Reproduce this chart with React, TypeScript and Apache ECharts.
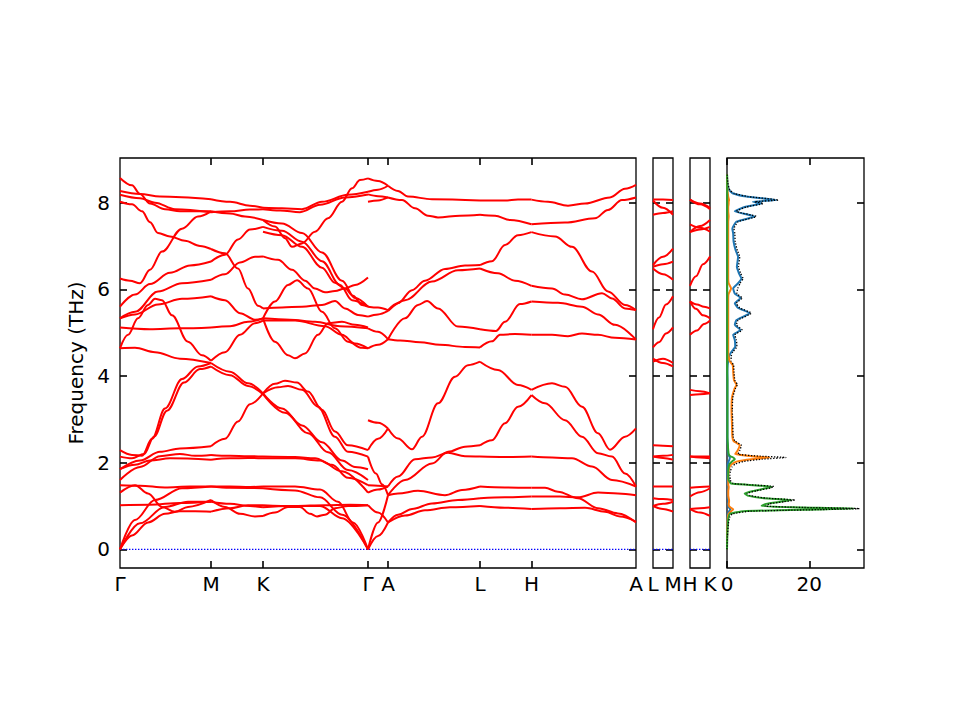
import React, { useEffect, useRef } from "react";
import * as echarts from "echarts";

type Pt = [number, number];

// ---------- axes / labels ----------
const pathTicks = [0, 91, 143, 248, 268, 360, 411.5, 516];
const pathLabels = ["Γ", "M", "K", "Γ", "A", "L", "H", "A"];
const lmLabels = ["L", "M"];
const hkLabels = ["H", "K"];
const freqTicks = [0, 2, 4, 6, 8];
const freqMin = -0.43;
const freqMax = 9.03;
const dosTicks = [0, 20];
const dosMax = 33.3;

// ---------- band strokes, [path position, THz] ----------
const bandsGM: Pt[][] = [
  [[0, 8.57], [12, 8.4], [20, 8.2], [30, 7.98], [45, 7.85], [60, 7.8], [91, 7.8]],
  [[0, 8.27], [20, 8.2], [40, 8.14], [91, 8.08]],
  [[0, 8.18], [20, 8.1], [35, 8.0], [55, 7.85], [91, 7.78]],
  [[0, 8.02], [12, 7.96], [22, 7.8], [30, 7.55], [38, 7.3], [50, 7.22], [65, 7.12], [80, 7.0], [91, 6.93]],
  [[0, 6.25], [10, 6.2], [20, 6.14], [30, 6.45], [42, 6.87], [62, 7.4], [78, 7.68], [91, 7.8]],
  [[0, 5.6], [15, 5.88], [30, 6.12], [50, 6.38], [70, 6.55], [91, 6.64]],
  [[0, 5.33], [15, 5.48], [38, 5.95], [62, 6.14], [91, 6.22]],
  [[0, 5.33], [15, 5.42], [38, 5.65], [62, 5.78], [91, 5.84]],
  [[0, 5.12], [30, 5.08], [60, 5.1], [91, 5.12]],
  [[0, 4.64], [15, 4.65], [35, 4.55], [60, 4.4], [91, 4.3]],
  [[0, 4.64], [8, 4.95], [18, 5.33], [28, 5.64], [35, 5.78], [42, 5.75], [52, 5.4], [68, 4.79], [82, 4.48], [91, 4.35]],
  [[0, 2.29], [12, 2.18], [22, 2.16], [32, 2.55], [45, 3.25], [62, 3.93], [78, 4.22], [91, 4.3]],
  [[0, 2.14], [12, 2.1], [24, 2.2], [34, 2.6], [47, 3.2], [64, 3.85], [80, 4.16], [91, 4.22]],
  [[0, 1.85], [20, 2.05], [40, 2.25], [60, 2.33], [91, 2.38]],
  [[0, 1.6], [20, 1.9], [40, 2.15], [60, 2.2], [75, 2.16], [91, 2.18]],
  [[0, 1.85], [15, 1.95], [30, 2.05], [50, 2.1], [91, 2.07]],
  [[0, 1.48], [20, 1.47], [45, 1.43], [70, 1.45], [91, 1.45]],
  [[0, 1.31], [15, 1.48], [28, 1.29], [42, 0.98], [55, 0.87], [68, 0.98], [91, 1.14]],
  [[0, 1.02], [30, 1.03], [60, 1.07], [91, 1.1]],
  [[0, 0], [15, 0.68], [35, 1.14], [62, 1.41], [91, 1.45]],
  [[0, 0], [20, 0.6], [45, 0.98], [68, 1.1], [91, 1.1]],
  [[0, 0], [12, 0.32], [28, 0.62], [45, 0.82], [60, 0.88], [75, 0.88], [91, 0.87]],
];

const bandsMK: Pt[][] = [
  [[91, 8.08], [110, 8.02], [130, 7.93], [143, 7.88]],
  [[91, 7.8], [110, 7.75], [125, 7.68], [143, 7.6]],
  [[91, 7.78], [110, 7.8], [130, 7.84], [143, 7.85]],
  [[91, 6.93], [105, 6.83], [118, 6.48], [128, 6.02], [138, 5.62], [143, 5.56]],
  [[91, 6.64], [105, 6.8], [118, 7.15], [130, 7.38], [143, 7.44]],
  [[91, 6.22], [105, 6.35], [120, 6.62], [135, 6.75], [143, 6.76]],
  [[91, 5.84], [105, 5.75], [120, 5.45], [135, 5.3], [143, 5.33]],
  [[91, 5.12], [110, 5.15], [128, 5.25], [143, 5.33]],
  [[91, 4.35], [105, 4.55], [120, 4.95], [135, 5.22], [143, 5.28]],
  [[91, 4.3], [110, 4.1], [128, 3.83], [143, 3.6]],
  [[91, 4.22], [110, 4.02], [128, 3.77], [143, 3.58]],
  [[91, 2.38], [105, 2.55], [118, 2.95], [130, 3.35], [143, 3.6]],
  [[91, 2.18], [110, 2.16], [128, 2.15], [143, 2.14]],
  [[91, 2.07], [110, 2.1], [128, 2.11], [143, 2.1]],
  [[91, 1.45], [110, 1.45], [130, 1.44], [143, 1.45]],
  [[91, 1.45], [110, 1.42], [143, 1.41]],
  [[91, 1.14], [105, 0.98], [120, 0.82], [135, 0.76], [143, 0.77]],
  [[91, 1.1], [110, 1.05], [130, 1.0], [143, 0.97]],
  [[91, 0.87], [110, 0.95], [128, 1.02], [143, 1.02]],
];

const bandsKG: Pt[][] = [
  [[143, 7.88], [162, 7.87], [182, 7.85], [202, 8.02], [228, 8.18], [248, 8.25]],
  [[143, 7.6], [155, 7.45], [165, 7.18], [172, 6.98], [182, 7.06], [195, 7.33], [208, 7.64], [222, 8.02], [232, 8.33], [240, 8.52], [248, 8.56]],
  [[143, 7.85], [160, 7.82], [180, 7.78], [200, 7.95], [225, 8.12], [248, 8.19]],
  [[143, 7.6], [162, 7.52], [182, 7.3], [202, 6.85], [222, 6.2], [235, 5.8], [248, 5.6]],
  [[143, 7.44], [162, 7.35], [182, 7.1], [202, 6.65], [220, 6.1], [232, 5.75], [248, 5.6]],
  [[143, 7.33], [162, 7.25], [182, 6.98], [202, 6.5], [215, 6.15], [225, 6.02], [235, 6.1], [248, 6.27]],
  [[143, 6.76], [158, 6.68], [172, 6.45], [185, 6.2], [195, 6.02], [205, 5.93], [215, 5.96], [225, 6.02], [233, 5.85], [242, 5.64], [248, 5.6]],
  [[143, 5.56], [162, 5.58], [182, 5.6], [202, 5.64], [215, 5.73], [225, 5.56], [238, 5.41], [248, 5.37]],
  [[143, 5.33], [155, 5.72], [168, 6.1], [177, 6.21], [188, 6.02], [202, 5.48], [215, 5.1], [228, 4.79], [242, 4.65], [248, 4.64]],
  [[143, 5.33], [155, 4.79], [168, 4.48], [175, 4.41], [185, 4.52], [198, 4.95], [208, 5.22], [222, 5.25], [235, 5.18], [248, 5.12]],
  [[143, 5.33], [170, 5.3], [195, 5.25], [220, 5.15], [248, 5.1]],
  [[143, 5.28], [175, 5.28], [205, 5.15], [222, 4.95], [235, 4.75], [248, 4.64]],
  [[143, 3.6], [155, 3.82], [165, 3.89], [177, 3.85], [188, 3.64], [202, 3.22], [215, 2.72], [228, 2.4], [248, 2.29]],
  [[143, 3.6], [158, 3.74], [168, 3.77], [182, 3.68], [198, 3.29], [215, 2.6], [228, 2.25], [248, 2.14]],
  [[143, 3.6], [162, 3.25], [182, 2.86], [202, 2.47], [222, 2.05], [235, 1.9], [248, 1.85]],
  [[143, 3.58], [165, 3.15], [188, 2.68], [208, 2.24], [228, 1.83], [248, 1.6]],
  [[143, 2.14], [175, 2.13], [195, 2.1], [212, 1.95], [228, 1.65], [248, 1.48]],
  [[143, 2.1], [175, 2.1], [200, 2.05], [222, 1.8], [248, 1.31]],
  [[143, 1.45], [175, 1.45], [200, 1.38], [218, 1.1], [233, 0.62], [248, 0]],
  [[143, 1.41], [175, 1.36], [200, 1.2], [222, 0.8], [248, 0]],
  [[143, 0.77], [155, 0.85], [168, 0.98], [180, 0.98], [190, 0.82], [197, 0.76], [205, 0.8], [215, 0.95], [228, 1.0], [248, 1.02]],
  [[143, 0.97], [170, 1.0], [200, 1.0], [222, 0.72], [248, 0]],
  [[143, 1.02], [175, 1.0], [205, 1.02], [230, 1.03], [248, 1.02]],
];

const bandsGA: Pt[][] = [
  [[248, 8.56], [258, 8.5], [268, 8.39]],
  [[248, 8.25], [258, 8.3], [268, 8.39]],
  [[248, 8.19], [258, 8.15], [268, 8.12]],
  [[248, 8.02], [258, 8.05], [268, 8.12]],
  [[248, 5.6], [258, 5.58], [268, 5.52]],
  [[248, 5.37], [258, 5.42], [268, 5.5]],
  [[248, 5.1], [258, 5.02], [268, 4.85]],
  [[248, 4.64], [258, 4.72], [268, 4.85]],
  [[248, 2.98], [258, 2.92], [268, 2.79]],
  [[248, 2.29], [258, 2.55], [268, 2.79]],
  [[248, 2.14], [256, 1.75], [262, 1.5], [268, 1.25]],
  [[248, 1.48], [258, 1.47], [268, 1.45]],
  [[248, 1.31], [258, 1.38], [268, 1.45]],
  [[248, 1.02], [258, 0.85], [268, 0.62]],
  [[248, 0], [258, 0.31], [268, 0.62]],
  [[248, 0], [258, 0.62], [268, 1.25]],
];

const bandsAL: Pt[][] = [
  [[268, 8.39], [278, 8.27], [288, 8.14], [312, 8.08], [360, 8.05]],
  [[268, 8.12], [282, 8.06], [295, 7.87], [308, 7.7], [318, 7.66], [340, 7.7], [360, 7.72]],
  [[268, 5.52], [278, 5.68], [292, 5.98], [305, 6.2], [325, 6.47], [345, 6.55], [360, 6.56]],
  [[268, 5.5], [285, 5.75], [312, 6.18], [338, 6.44], [360, 6.48]],
  [[268, 4.85], [285, 5.33], [298, 5.64], [307, 5.73], [318, 5.56], [338, 5.14], [360, 5.08]],
  [[268, 4.85], [280, 4.82], [300, 4.78], [320, 4.72], [345, 4.67], [360, 4.66]],
  [[268, 2.79], [278, 2.56], [292, 2.31], [302, 2.6], [318, 3.37], [335, 3.98], [348, 4.25], [360, 4.33]],
  [[268, 1.45], [278, 1.68], [295, 2.08], [312, 2.12], [328, 2.23], [345, 2.15], [360, 2.14]],
  [[268, 1.25], [285, 1.6], [312, 1.98], [328, 2.25], [345, 2.37], [360, 2.4]],
  [[268, 1.25], [278, 1.29], [298, 1.35], [325, 1.25], [342, 1.37], [360, 1.45]],
  [[268, 0.62], [278, 0.8], [292, 0.93], [312, 1.06], [338, 1.14], [360, 1.18]],
  [[268, 0.62], [285, 0.78], [305, 0.9], [330, 0.97], [360, 1.0]],
];

const bandsLH: Pt[][] = [
  [[360, 8.05], [385, 8.05], [398, 8.07], [411.5, 8.07]],
  [[360, 7.72], [375, 7.7], [390, 7.6], [411.5, 7.5]],
  [[360, 6.56], [372, 6.65], [385, 7.02], [398, 7.25], [411.5, 7.32]],
  [[360, 6.48], [378, 6.37], [395, 6.2], [411.5, 6.08]],
  [[360, 5.08], [376, 5.04], [385, 5.25], [400, 5.66], [411.5, 5.72]],
  [[360, 4.66], [372, 4.8], [380, 4.95], [395, 4.97], [411.5, 4.95]],
  [[360, 4.33], [378, 4.14], [398, 3.79], [411.5, 3.68]],
  [[360, 2.4], [372, 2.52], [385, 2.91], [398, 3.29], [411.5, 3.56]],
  [[360, 2.14], [385, 2.13], [411.5, 2.14]],
  [[360, 1.45], [385, 1.43], [411.5, 1.42]],
  [[360, 1.18], [385, 1.2], [411.5, 1.22]],
  [[360, 1.0], [385, 0.96], [411.5, 0.93]],
];

const bandsHA: Pt[][] = [
  [[411.5, 8.07], [428, 8.02], [448, 7.93], [465, 7.98], [490, 8.12], [505, 8.32], [516, 8.41]],
  [[411.5, 7.5], [445, 7.54], [475, 7.64], [488, 7.83], [502, 8.06], [516, 8.12]],
  [[411.5, 7.32], [435, 7.22], [452, 6.98], [472, 6.41], [488, 5.95], [505, 5.64], [516, 5.52]],
  [[411.5, 6.08], [432, 6.02], [445, 5.88], [462, 5.77], [482, 5.91], [492, 5.79], [505, 5.56], [516, 5.52]],
  [[411.5, 5.72], [438, 5.69], [462, 5.6], [478, 5.42], [495, 5.18], [516, 4.84]],
  [[411.5, 4.95], [432, 4.95], [448, 4.92], [462, 4.98], [478, 4.95], [495, 4.88], [516, 4.84]],
  [[411.5, 3.68], [432, 3.83], [445, 3.75], [462, 3.29], [478, 2.68], [490, 2.3], [505, 2.6], [516, 2.79]],
  [[411.5, 3.56], [425, 3.37], [445, 2.98], [462, 2.6], [478, 2.22], [492, 2.14], [505, 1.75], [516, 1.45]],
  [[411.5, 2.14], [432, 2.12], [452, 2.1], [472, 1.91], [492, 1.6], [516, 1.45]],
  [[411.5, 1.42], [425, 1.42], [438, 1.33], [458, 1.18], [478, 0.95], [498, 0.83], [516, 0.62]],
  [[411.5, 1.22], [440, 1.22], [458, 1.2], [478, 1.31], [498, 1.29], [516, 1.25]],
  [[411.5, 0.93], [440, 0.95], [465, 0.96], [485, 0.87], [500, 0.76], [516, 0.64]],
];

// L -> M panel (0 = L, 1 = M)
const bandsLM: Pt[][] = [
  [[0, 8.07], [0.5, 8.07], [1, 8.06]],
  [[0, 8.05], [0.5, 7.88], [1, 7.72]],
  [[0, 7.72], [0.5, 7.76], [1, 7.8]],
  [[0, 6.56], [0.5, 6.75], [1, 6.94]],
  [[0, 6.52], [0.5, 6.58], [1, 6.64]],
  [[0, 6.48], [0.5, 6.35], [1, 6.22]],
  [[0, 5.08], [0.3, 5.35], [0.65, 5.65], [1, 5.84]],
  [[0, 4.66], [0.3, 4.78], [0.65, 4.98], [1, 5.12]],
  [[0, 4.33], [0.5, 4.4], [1, 4.3]],
  [[0, 4.4], [0.5, 4.3], [1, 4.22]],
  [[0, 2.4], [0.5, 2.39], [1, 2.38]],
  [[0, 2.14], [0.5, 2.16], [1, 2.18]],
  [[0, 2.14], [0.5, 2.11], [1, 2.07]],
  [[0, 1.45], [0.5, 1.45], [1, 1.45]],
  [[0, 1.18], [0.5, 1.16], [1, 1.14]],
  [[0, 1.0], [0.5, 1.05], [1, 1.1]],
  [[0, 1.0], [0.5, 0.93], [1, 0.87]],
];

// H -> K panel (0 = H, 1 = K)
const bandsHK: Pt[][] = [
  [[0, 8.07], [0.5, 7.98], [1, 7.88]],
  [[0, 8.07], [0.5, 7.96], [1, 7.85]],
  [[0, 7.5], [0.5, 7.42], [1, 7.33]],
  [[0, 7.32], [0.5, 7.46], [1, 7.6]],
  [[0, 7.32], [0.5, 7.38], [1, 7.44]],
  [[0, 6.08], [0.3, 6.3], [0.65, 6.58], [1, 6.76]],
  [[0, 5.72], [0.35, 5.65], [0.7, 5.6], [1, 5.56]],
  [[0, 5.72], [0.3, 5.55], [0.65, 5.4], [1, 5.33]],
  [[0, 4.95], [0.35, 5.05], [0.7, 5.2], [1, 5.28]],
  [[0, 3.68], [0.5, 3.65], [1, 3.6]],
  [[0, 3.56], [0.5, 3.58], [1, 3.6]],
  [[0, 2.14], [0.5, 2.14], [1, 2.14]],
  [[0, 2.14], [0.5, 2.12], [1, 2.1]],
  [[0, 1.42], [0.5, 1.44], [1, 1.45]],
  [[0, 1.22], [0.5, 1.32], [1, 1.41]],
  [[0, 0.93], [0.5, 0.95], [1, 0.97]],
  [[0, 0.93], [0.5, 0.85], [1, 0.77]],
];

// ---------- DOS ----------
const dosFreq = [0, 0.3, 0.6, 0.75, 0.82, 0.88, 0.92, 0.94, 0.97, 1.0, 1.05, 1.1, 1.14, 1.18, 1.24, 1.29, 1.35, 1.42, 1.45, 1.49, 1.52, 1.6, 1.7, 1.8, 1.9, 1.97, 2.03, 2.08, 2.12, 2.15, 2.2, 2.28, 2.4, 2.5, 2.6, 2.9, 3.2, 3.5, 3.7, 3.8, 3.9, 4.1, 4.25, 4.35, 4.45, 4.55, 4.68, 4.83, 4.95, 5.06, 5.18, 5.29, 5.45, 5.57, 5.68, 5.8, 5.9, 6.02, 6.14, 6.25, 6.37, 6.52, 6.75, 6.9, 7.1, 7.29, 7.4, 7.56, 7.68, 7.8, 7.9, 7.98, 8.02, 8.06, 8.14, 8.21, 8.29, 8.45, 8.65];
const dosGreen = [0, 0.05, 0.2, 0.4, 0.7, 4, 22, 31, 16, 8.4, 9.5, 13, 15.7, 9, 5, 4.3, 6.5, 10, 10.8, 5, 1.0, 0.4, 0.3, 0.3, 0.4, 0.6, 1.2, 1.9, 1.5, 0.8, 0.4, 0.3, 0.2, 0.15, 0.1, 0.1, 0.1, 0.1, 0.1, 0.1, 0.1, 0.05, 0.05, 0.05, 0.05, 0.05, 0.05, 0.05, 0.05, 0.05, 0.05, 0.05, 0.05, 0.05, 0.05, 0.05, 0.05, 0.05, 0.05, 0.05, 0.05, 0.05, 0.05, 0.05, 0.05, 0.05, 0.05, 0.05, 0.05, 0.05, 0.05, 0.05, 0.05, 0.05, 0.05, 0.05, 0.05, 0.05, 0.02];
const dosOrange = [0, 0.03, 0.1, 0.2, 0.4, 1.0, 1.5, 1.3, 0.8, 0.5, 0.4, 0.5, 0.5, 0.4, 0.3, 0.3, 0.3, 0.4, 0.4, 0.3, 0.3, 0.3, 0.3, 0.4, 0.6, 1.2, 2.5, 6, 10.4, 6, 2.0, 2.6, 3.1, 1.6, 1.3, 1.2, 1.1, 1.2, 1.8, 2.3, 1.7, 1.5, 1.4, 0.6, 0.4, 0.3, 0.3, 0.3, 0.3, 0.3, 0.3, 0.3, 0.3, 0.3, 0.3, 0.3, 0.4, 1.0, 0.4, 0.3, 0.3, 0.3, 0.3, 0.3, 0.3, 0.3, 0.3, 0.3, 0.4, 0.3, 0.3, 0.4, 0.4, 0.5, 0.3, 0.2, 0.1, 0.05, 0];
const dosBlue = [0, 0.02, 0.05, 0.1, 0.2, 0.5, 0.8, 0.7, 0.4, 0.3, 0.3, 0.3, 0.3, 0.2, 0.2, 0.2, 0.2, 0.2, 0.2, 0.2, 0.1, 0.1, 0.1, 0.1, 0.15, 0.2, 0.4, 0.6, 0.7, 0.5, 0.3, 0.2, 0.2, 0.1, 0.1, 0.1, 0.1, 0.1, 0.1, 0.1, 0.1, 0.1, 0.15, 0.3, 0.5, 1.0, 2.0, 1.9, 1.5, 3.3, 1.9, 2.3, 5.5, 2.7, 1.9, 3.3, 1.9, 1.5, 2.7, 3.5, 2.9, 2.4, 2.7, 2.1, 1.6, 1.5, 1.3, 2.3, 6.7, 1.9, 4.3, 8.4, 6.3, 12.0, 4.7, 1.5, 0.5, 0.1, 0];
const dosTotal = [0, 0.1, 0.35, 0.7, 1.3, 5.5, 24, 32.2, 17, 9.3, 10.3, 13.9, 16.5, 9.7, 5.6, 4.9, 7.1, 10.7, 11.4, 5.6, 1.5, 0.8, 0.7, 0.8, 1.2, 2.0, 4.1, 8.5, 14.3, 8, 2.7, 3.1, 3.5, 1.9, 1.5, 1.4, 1.3, 1.4, 2.0, 2.5, 1.9, 1.7, 1.6, 1.0, 1.0, 1.4, 2.4, 2.3, 1.9, 3.7, 2.3, 2.7, 5.9, 3.1, 2.3, 3.7, 2.4, 2.6, 3.2, 3.9, 3.3, 2.8, 3.1, 2.5, 2.0, 1.9, 1.7, 2.7, 7.1, 2.3, 4.7, 8.8, 6.8, 12.5, 5.1, 1.8, 0.7, 0.2, 0.05];

// ---------- styling / layout ----------
const FONT = "DejaVu Sans";
const BLACK = "#000000";
const RED = "#ff0000";
const FS = 20;
const TICK = 7;

function labelOf(values: number[], labels: string[]) {
  return (v: number) => {
    const i = values.findIndex((t) => Math.abs(t - v) < 1e-6);
    return i >= 0 ? labels[i] : "";
  };
}

function tickOn(values: number[]) {
  return { show: true, inside: true, length: TICK, customValues: values.slice(), lineStyle: { color: BLACK, width: 1.6 } };
}

function xAxes(grid: number, min: number, max: number, ticks: number[] | null, labelVals: number[], fmt: (v: number) => string) {
  return [
    {
      type: "value", gridIndex: grid, position: "bottom", min, max,
      axisLine: { show: false, onZero: false }, splitLine: { show: false },
      axisTick: ticks ? tickOn(ticks) : { show: false },
      axisLabel: {
        show: true, customValues: labelVals.slice(), formatter: fmt, color: BLACK,
        fontSize: FS, fontFamily: FONT, margin: 6, showMinLabel: true, showMaxLabel: true, hideOverlap: false,
      },
    },
    {
      type: "value", gridIndex: grid, position: "top", min, max,
      axisLine: { show: false, onZero: false }, splitLine: { show: false },
      axisTick: ticks ? tickOn(ticks) : { show: false }, axisLabel: { show: false },
    },
  ];
}

function yAxes(grid: number, leftTicks: boolean, labels: boolean) {
  const left: any = {
    type: "value", gridIndex: grid, position: "left", min: freqMin, max: freqMax,
    axisLine: { show: false, onZero: false }, splitLine: { show: false },
    axisTick: leftTicks ? tickOn(freqTicks) : { show: false },
    axisLabel: labels
      ? { show: true, customValues: freqTicks.slice(), color: BLACK, fontSize: FS, fontFamily: FONT, margin: 10 }
      : { show: false },
  };
  if (labels) {
    left.name = "Frequency (THz)";
    left.nameLocation = "middle";
    left.nameGap = 21;
    left.nameTextStyle = { color: BLACK, fontSize: FS, fontFamily: FONT };
  }
  return [
    left,
    {
      type: "value", gridIndex: grid, position: "right", min: freqMin, max: freqMax,
      axisLine: { show: false, onZero: false }, splitLine: { show: false },
      axisTick: tickOn(freqTicks), axisLabel: { show: false },
    },
  ];
}

function bandSeries(strokes: Pt[][], axis: number) {
  return strokes.map((s) => ({
    type: "line", xAxisIndex: axis, yAxisIndex: axis, data: s,
    showSymbol: false, symbol: "none", smooth: 0.35, smoothMonotone: "x",
    lineStyle: { color: RED, width: 2 }, silent: true,
  }));
}

function zeroLine(axis: number, x0: number, x1: number) {
  return {
    type: "line", xAxisIndex: axis, yAxisIndex: axis, data: [[x0, 0], [x1, 0]],
    showSymbol: false, symbol: "none", silent: true,
    lineStyle: { color: "#0000ff", width: 1.4, type: [1.4, 1.6] },
  };
}

function dosSeries(vals: number[], color: string, width: number, dotted: boolean) {
  return {
    type: "line", xAxisIndex: 6, yAxisIndex: 6,
    data: dosFreq.map((f, i) => [vals[i], f]),
    showSymbol: false, symbol: "none", silent: true, smooth: 0.15,
    lineStyle: { color, width, type: dotted ? [1.3, 1.6] : "solid" },
  };
}

function gridBox(left: number, width: number) {
  return { show: true, borderColor: BLACK, borderWidth: 1.3, backgroundColor: "transparent", containLabel: false, outerBoundsMode: "none", left, top: 158, width, height: 410 };
}

function buildOption() {
  const mainTicks = pathTicks.slice(1, -1);
  return {
    animation: false,
    textStyle: { fontFamily: FONT },
    grid: [gridBox(120, 516), gridBox(653, 20), gridBox(690, 20), gridBox(727, 137)],
    xAxis: [
      ...xAxes(0, 0, 516, mainTicks, pathTicks, labelOf(pathTicks, pathLabels)),
      ...xAxes(1, 0, 1, null, [0, 1], labelOf([0, 1], lmLabels)),
      ...xAxes(2, 0, 1, null, [0, 1], labelOf([0, 1], hkLabels)),
      ...xAxes(3, 0, dosMax, dosTicks, dosTicks, (v: number) => String(v)),
    ],
    yAxis: [
      ...yAxes(0, true, true),
      ...yAxes(1, true, false),
      ...yAxes(2, true, false),
      ...yAxes(3, false, false),
    ],
    series: [
      zeroLine(0, 0, 516),
      zeroLine(2, 0, 1),
      zeroLine(4, 0, 1),
      ...bandSeries(bandsGM, 0),
      ...bandSeries(bandsMK, 0),
      ...bandSeries(bandsKG, 0),
      ...bandSeries(bandsGA, 0),
      ...bandSeries(bandsAL, 0),
      ...bandSeries(bandsLH, 0),
      ...bandSeries(bandsHA, 0),
      ...bandSeries(bandsLM, 2),
      ...bandSeries(bandsHK, 4),
      dosSeries(dosBlue, "#1f77b4", 2, false),
      dosSeries(dosOrange, "#ff7f0e", 2, false),
      dosSeries(dosGreen, "#2ca02c", 2, false),
      dosSeries(dosTotal, BLACK, 1.3, true),
    ],
  };
}

export default function App() {
  const ref = useRef<HTMLDivElement>(null);
  useEffect(() => {
    document.body.style.margin = "0";
    const chart = echarts.init(ref.current as HTMLDivElement, null, { renderer: "svg" });
    chart.setOption(buildOption() as any);
    return () => chart.dispose();
  }, []);
  return <div ref={ref} style={{ width: 960, height: 720, background: "#ffffff" }} />;
}
